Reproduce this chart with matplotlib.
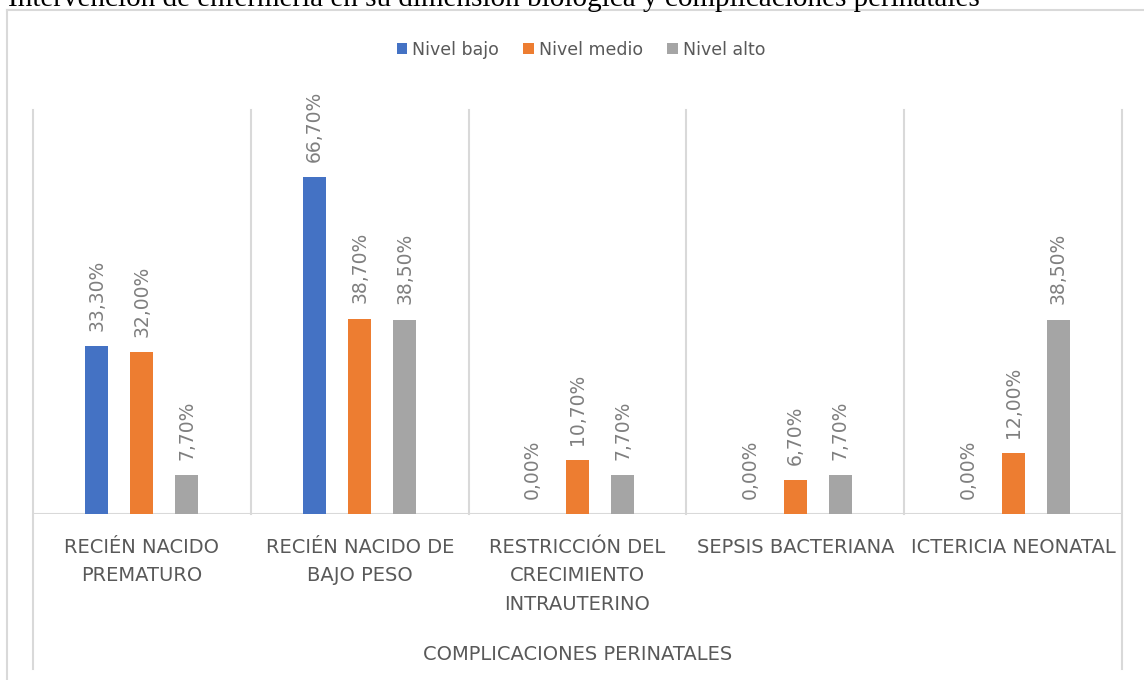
import matplotlib
matplotlib.use("Agg")
import matplotlib.pyplot as plt
import numpy as np
from matplotlib.lines import Line2D
from matplotlib.patches import Patch
import matplotlib.transforms as mtransforms

categories = ["RECIÉN NACIDO\nPREMATURO", "RECIÉN NACIDO DE\nBAJO PESO",
              "RESTRICCIÓN DEL\nCRECIMIENTO\nINTRAUTERINO", "SEPSIS BACTERIANA",
              "ICTERICIA NEONATAL"]
series_names = ["Nivel bajo", "Nivel medio", "Nivel alto"]
nivel_bajo = [33.3, 66.7, 0.0, 0.0, 0.0]
nivel_medio = [32.0, 38.7, 10.7, 6.7, 12.0]
nivel_alto = [7.7, 38.5, 7.7, 7.7, 38.5]
colors = ["#4472C4", "#ED7D31", "#A5A5A5"]
title_text = "Intervención de enfermería en su dimensión biológica y complicaciones perinatales"
x_title = "COMPLICACIONES PERINATALES"

W, H = 1144, 680
fig = plt.figure(figsize=(W / 100, H / 100), dpi=100)
fig.patch.set_facecolor("white")

# Partially cut-off caption at top (as in the reference)
fig.text(8 / W, 1 - 5.5 / H, title_text, family="Liberation Serif", fontsize=21,
         color="black", va="baseline", ha="left")

# Outer border (left and top)
fig.add_artist(Line2D([7 / W, 7 / W], [0, 1 - 10 / H], color="#d9d9d9", lw=1.5,
                      transform=fig.transFigure))
fig.add_artist(Line2D([7 / W, 1], [1 - 10 / H, 1 - 10 / H], color="#d9d9d9", lw=1.5,
                      transform=fig.transFigure))

left, right = 33 / W, 1122 / W
bottom, top = (H - 514) / H, (H - 110) / H
ax = fig.add_axes([left, bottom, right - left, top - bottom])
ax.set_xlim(-0.5, len(categories) - 0.5)
ax.set_ylim(0, 80)
for s in ax.spines.values():
    s.set_visible(False)
ax.set_yticks([])
ax.set_xticks([])

x = np.arange(len(categories))
offset = 45 / 217.8
width = 23 / 217.8
all_series = [nivel_bajo, nivel_medio, nivel_alto]
for i, (vals, c, name) in enumerate(zip(all_series, colors, series_names)):
    xs = x + (i - 1) * offset
    ax.bar(xs, vals, width=width, color=c, label=name, zorder=3)
    for xi, v in zip(xs, vals):
        ax.annotate(f"{v:.2f}%".replace(".", ","), (xi, v), xytext=(0, 11),
                    textcoords="offset points", rotation=90, ha="center",
                    va="bottom", fontsize=13.5, color="#7f7f7f", family="DejaVu Sans")

# baseline
ax.axhline(0, color="#d9d9d9", lw=1.5, zorder=2)

# separators: inner ones stop at baseline, outer ones extend below
trans = mtransforms.blended_transform_factory(ax.transData, ax.transAxes)
axh = H * (top - bottom)
ybot = -(669 - 514) / axh
seps = np.arange(-0.5, len(categories), 1.0)
for k, sx in enumerate(seps):
    y0 = ybot if k in (0, len(seps) - 1) else 0.0
    ax.add_line(Line2D([sx, sx], [y0, 1.0], color="#d9d9d9", lw=1.5,
                       transform=trans, clip_on=False, zorder=1))

# category labels
for xi, lab in zip(x, categories):
    ax.text(xi, -(538 - 514) / axh, lab, transform=trans, ha="center", va="top",
            fontsize=14, color="#595959", linespacing=1.62, family="DejaVu Sans")

ax.text(0.5, -(655 - 514) / axh, x_title, transform=ax.transAxes, ha="center",
        va="center", fontsize=14, color="#595959", family="DejaVu Sans")

handles = [Patch(facecolor=c, edgecolor="none") for c in colors]
fig.legend(handles, series_names, loc="center", bbox_to_anchor=(581 / W, 1 - 50 / H),
           ncol=3, frameon=False, fontsize=12.5, handlelength=0.6, handleheight=0.6,
           handletextpad=0.3, columnspacing=1.4, labelcolor="#595959")

fig.savefig("out.png", dpi=100, facecolor="white")
